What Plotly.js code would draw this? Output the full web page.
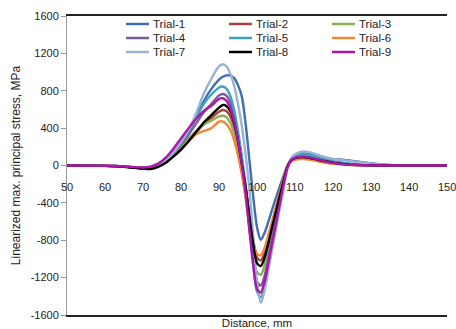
<!DOCTYPE html>
<html>
<head>
<meta charset="utf-8">
<script src="https://cdn.plot.ly/plotly-3.0.1.min.js"></script>
<style>
  html, body { margin: 0; padding: 0; background: #fff; }
  #chart { width: 456px; height: 329px; }
</style>
</head>
<body>
<div id="chart"></div>
<script>
// Distance along the specimen, mm
const distance = [50, 60, 65, 70, 72, 74, 76, 78, 80, 82, 84, 86, 88, 90, 91, 92, 93, 94, 95, 96,
                  97, 98, 99, 100, 101, 102, 103, 104, 105, 106, 107, 108, 109, 110, 112, 114, 116, 118, 120, 123,
                  126, 130, 135, 140, 150];

// Linearized max. principal stress, MPa
const trial1 = [0, -3, -10, -25, -22, 5, 55, 135, 230, 360, 520, 690, 820, 920, 950, 965, 962, 935, 860, 740,
                450, 60, -330, -660, -795, -720, -600, -470, -345, -225, -110, 0, 70, 110, 140, 125, 100, 80, 68, 60,
                45, 25, 6, 0, 0];
const trial2 = [0, -3, -12, -30, -30, -5, 40, 105, 180, 265, 355, 440, 510, 575, 594, 580, 525, 410, 230, 10,
                -230, -520, -790, -985, -1015, -935, -785, -625, -465, -305, -150, -10, 55, 78, 88, 78, 60, 42, 28, 14,
                6, 2, 0, 0, 0];
const trial3 = [0, -3, -10, -25, -22, 5, 55, 125, 205, 290, 370, 440, 480, 525, 533, 515, 455, 340, 160, -70,
                -350, -680, -960, -1140, -1170, -1070, -900, -720, -540, -360, -180, -20, 55, 78, 85, 75, 55, 38, 24, 10,
                4, 1, 0, 0, 0];
const trial4 = [0, -3, -10, -25, -20, 5, 55, 130, 225, 330, 450, 570, 660, 750, 765, 745, 670, 530, 320, 60,
                -250, -640, -1000, -1240, -1285, -1180, -990, -790, -590, -390, -190, -20, 60, 90, 105, 95, 75, 55, 38, 20,
                10, 3, 0, 0, 0];
const trial5 = [0, -3, -10, -25, -22, 5, 60, 140, 245, 370, 510, 660, 760, 835, 845, 820, 740, 590, 370, 100,
                -220, -640, -1060, -1350, -1410, -1290, -1080, -860, -640, -420, -210, -25, 65, 100, 120, 110, 88, 65, 45, 28,
                15, 5, 0, 0, 0];
const trial6 = [0, -3, -12, -30, -30, -8, 35, 100, 175, 260, 335, 370, 400, 470, 470, 440, 380, 270, 110, -90,
                -330, -600, -820, -945, -960, -880, -740, -590, -440, -290, -140, -10, 45, 62, 68, 60, 45, 30, 20, 10,
                4, 1, 0, 0, 0];
const trial7 = [0, -3, -10, -25, -22, 5, 60, 140, 250, 380, 560, 770, 930, 1060, 1083, 1060, 980, 850, 660, 420,
                120, -250, -750, -1250, -1470, -1340, -1120, -900, -680, -460, -250, -40, 80, 120, 150, 140, 115, 90, 70, 55,
                40, 20, 5, 0, 0];
const trial8 = [0, -4, -14, -35, -38, -15, 30, 95, 170, 260, 360, 460, 540, 620, 648, 635, 580, 460, 260, 20,
                -230, -550, -840, -1045, -1075, -985, -830, -655, -490, -325, -165, -15, 55, 80, 90, 80, 62, 45, 30, 15,
                7, 2, 0, 0, 0];
const trial9 = [0, -3, -10, -22, -12, 20, 85, 180, 290, 400, 500, 585, 640, 712, 720, 690, 610, 470, 270, 20,
                -290, -690, -1060, -1320, -1360, -1240, -1040, -830, -620, -410, -200, -20, 60, 85, 95, 85, 65, 45, 28, 12,
                5, 1, 0, 0, 0];

const trialNames = ['Trial-1', 'Trial-2', 'Trial-3', 'Trial-4', 'Trial-5', 'Trial-6', 'Trial-7', 'Trial-8', 'Trial-9'];
const trialValues = [trial1, trial2, trial3, trial4, trial5, trial6, trial7, trial8, trial9];

const xTicks = [50, 60, 70, 80, 90, 100, 110, 120, 130, 140, 150];
const yTicks = [-1600, -1200, -800, -400, 0, 400, 800, 1200, 1600];

const colors = ['#3F6FAE', '#A8403E', '#8CB050', '#7A5C9C', '#3FA2BD', '#EE8838', '#9AB2D6', '#000000', '#AE15A8'];

const traces = trialNames.map((name, i) => ({
  type: 'scatter',
  mode: 'lines',
  name: name,
  x: distance,
  y: trialValues[i],
  showlegend: false,
  line: { color: colors[i], width: 2.4, shape: 'spline', smoothing: 0.8 }
}));

const font = 'Liberation Sans, Arial, sans-serif';

// Legend drawn as a 3-column key inside the plot (paper coordinates)
const W = 456, H = 329, M = { l: 67, r: 9, t: 16, b: 14 };
const plotW = W - M.l - M.r, plotH = H - M.t - M.b;
const px2x = px => (px - M.l) / plotW;
const py2y = py => (H - M.b - py) / plotH;
const legendShapes = [];
const annotations = [];
trialNames.forEach((name, i) => {
  const col = i % 3, row = Math.floor(i / 3);
  const x0 = 126 + col * 103, yc = 24 + row * 14;
  legendShapes.push({
    type: 'line', xref: 'paper', yref: 'paper',
    x0: px2x(x0), x1: px2x(x0 + 23), y0: py2y(yc), y1: py2y(yc),
    line: { color: colors[i], width: 2.5 }
  });
  annotations.push({
    xref: 'paper', yref: 'paper', x: px2x(x0 + 25), y: py2y(yc),
    xanchor: 'left', yanchor: 'middle', showarrow: false,
    text: name, font: { family: font, size: 11.5, color: '#222' }
  });
});

// Distance tick labels, set below the zero-stress axis line
xTicks.forEach(t => {
  annotations.push({
    xref: 'x', yref: 'y', x: t, y: 0, yshift: -21,
    xanchor: 'center', yanchor: 'middle', showarrow: false,
    text: String(t), font: { family: font, size: 11, color: '#222' }
  });
});

const layout = {
  width: W,
  height: H,
  margin: M,
  paper_bgcolor: '#ffffff',
  plot_bgcolor: '#ffffff',
  font: { family: font, size: 11, color: '#222' },
  showlegend: false,
  shapes: legendShapes,
  annotations: annotations,
  xaxis: {
    range: [50, 150],
    showticklabels: false,
    ticks: '',
    showgrid: false,
    zeroline: false,
    showline: true,
    linecolor: '#222',
    linewidth: 1.6,
    mirror: true,
    title: { text: 'Distance, mm', font: { family: font, size: 11.5, color: '#222' }, standoff: 15 },
    automargin: false
  },
  // axis line and short ticks crossing at stress = 0
  xaxis2: {
    overlaying: 'x',
    anchor: 'free',
    position: 0.5,
    side: 'bottom',
    range: [50, 150],
    tickvals: xTicks,
    showticklabels: false,
    ticks: 'outside',
    ticklen: 4,
    tickcolor: '#999',
    showgrid: false,
    zeroline: false,
    showline: true,
    linecolor: '#999',
    linewidth: 1
  },
  yaxis: {
    range: [-1600, 1600],
    tickvals: yTicks,
    ticktext: yTicks.map(String),
    ticks: 'outside',
    ticklen: 5,
    tickcolor: '#999',
    showgrid: false,
    zeroline: false,
    showline: true,
    linecolor: '#999',
    linewidth: 1,
    tickfont: { family: font, size: 11, color: '#222' },
    title: { text: 'Linearized max. principal stress, MPa', font: { family: font, size: 12, color: '#222' }, standoff: 7 },
    automargin: false
  },
  yaxis2: {
    overlaying: 'y',
    anchor: 'x',
    side: 'right',
    range: [-1600, 1600],
    showticklabels: false,
    ticks: '',
    showgrid: false,
    zeroline: false,
    showline: true,
    linecolor: '#222',
    linewidth: 1.6
  }
};

Plotly.newPlot('chart', traces, layout, { staticPlot: true, displayModeBar: false });
</script>
</body>
</html>
